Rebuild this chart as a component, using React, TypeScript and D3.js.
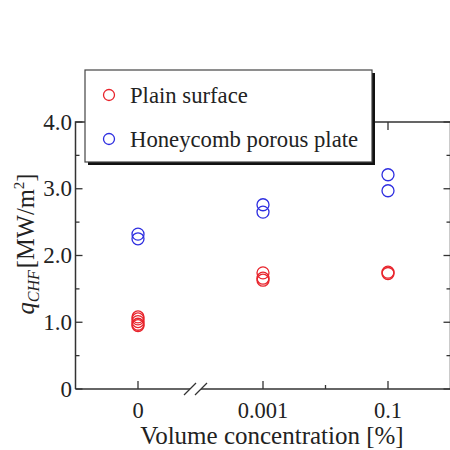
import { useEffect, useRef } from "react";
import * as d3 from "d3";

const categories = ["0", "0.001", "0.1"];
const plainX = [0, 0, 0, 0, 0, 1, 1, 1, 2, 2];
const plainY = [1.08, 1.05, 1.01, 0.97, 0.95, 1.74, 1.66, 1.63, 1.75, 1.73];
const honeyX = [0, 0, 1, 1, 2, 2];
const honeyY = [2.32, 2.25, 2.76, 2.65, 3.21, 2.97];
const yTicks = [0, 1, 2, 3, 4];
const yTickLabels = ["0", "1.0", "2.0", "3.0", "4.0"];
const yMinor = [0.5, 1.5, 2.5, 3.5];
const xMinor = [1.5];
const legendItems = ["Plain surface", "Honeycomb porous plate"];

const RED = "#e8242c";
const BLUE = "#2e2ee0";
const AXIS = "#333";
const FONT = "Times New Roman, Liberation Serif, DejaVu Serif, serif";

export default function App() {
  const svgRef = useRef<SVGSVGElement>(null);

  useEffect(() => {
    if (!svgRef.current) return;
    const svg = d3.select(svgRef.current);
    svg.selectAll("*").remove();

    const x = d3.scaleLinear().domain([-0.5, 2.5]).range([75.5, 450.5]);
    const y = d3.scaleLinear().domain([0, 4]).range([389, 122]);
    const [x0, x1] = x.range();
    const [y0, y1] = y.range();

    const g = svg.append("g");

    // frame: left, top, right
    g.append("path")
      .attr("d", `M${x0},${y0} V${y1} H${x1} V${y0}`)
      .attr("fill", "none").attr("stroke", AXIS).attr("stroke-width", 1.5);

    // bottom axis with break
    const brk1 = 190, brk2 = 201;
    g.append("line").attr("x1", x0).attr("x2", brk1).attr("y1", y0).attr("y2", y0)
      .attr("stroke", AXIS).attr("stroke-width", 1.5);
    g.append("line").attr("x1", brk2).attr("x2", x1).attr("y1", y0).attr("y2", y0)
      .attr("stroke", AXIS).attr("stroke-width", 1.5);
    [brk1, brk2].forEach((bx) => {
      g.append("line")
        .attr("x1", bx - 6).attr("y1", y0 + 6).attr("x2", bx + 6).attr("y2", y0 - 6)
        .attr("stroke", AXIS).attr("stroke-width", 1.2);
    });

    // y ticks (left + right, inward)
    yTicks.forEach((v) => {
      g.append("line").attr("x1", x0).attr("x2", x0 + 7).attr("y1", y(v)).attr("y2", y(v))
        .attr("stroke", AXIS).attr("stroke-width", 1.3);
      g.append("line").attr("x1", x1).attr("x2", x1 - 7).attr("y1", y(v)).attr("y2", y(v))
        .attr("stroke", AXIS).attr("stroke-width", 1.3);
    });
    yMinor.forEach((v) => {
      g.append("line").attr("x1", x0).attr("x2", x0 + 4).attr("y1", y(v)).attr("y2", y(v))
        .attr("stroke", AXIS).attr("stroke-width", 1.3);
      g.append("line").attr("x1", x1).attr("x2", x1 - 4).attr("y1", y(v)).attr("y2", y(v))
        .attr("stroke", AXIS).attr("stroke-width", 1.3);
    });

    // x ticks (bottom + top, inward)
    categories.forEach((_, i) => {
      g.append("line").attr("x1", x(i)).attr("x2", x(i)).attr("y1", y0).attr("y2", y0 - 8)
        .attr("stroke", AXIS).attr("stroke-width", 1.3);
      g.append("line").attr("x1", x(i)).attr("x2", x(i)).attr("y1", y1).attr("y2", y1 + 8)
        .attr("stroke", AXIS).attr("stroke-width", 1.3);
    });
    xMinor.forEach((v) => {
      g.append("line").attr("x1", x(v)).attr("x2", x(v)).attr("y1", y0).attr("y2", y0 - 4)
        .attr("stroke", AXIS).attr("stroke-width", 1.3);
      g.append("line").attr("x1", x(v)).attr("x2", x(v)).attr("y1", y1).attr("y2", y1 + 4)
        .attr("stroke", AXIS).attr("stroke-width", 1.3);
    });

    // tick labels
    yTicks.forEach((v, i) => {
      g.append("text").attr("x", 72).attr("y", y(v) + 7.5)
        .attr("text-anchor", "end").attr("font-family", FONT).attr("font-size", 23)
        .attr("fill", "#222").text(yTickLabels[i]);
    });
    categories.forEach((c, i) => {
      g.append("text").attr("x", x(i)).attr("y", 418)
        .attr("text-anchor", "middle").attr("font-family", FONT).attr("font-size", 22.5)
        .attr("fill", "#222").text(c);
    });

    // axis titles
    g.append("text").attr("x", 272).attr("y", 444)
      .attr("text-anchor", "middle").attr("font-family", FONT).attr("font-size", 25)
      .attr("fill", "#222").text("Volume concentration [%]");

    const yt = g.append("text")
      .attr("transform", "translate(34,244) rotate(-90)")
      .attr("text-anchor", "middle").attr("font-family", FONT).attr("font-size", 24.5)
      .attr("fill", "#222");
    yt.append("tspan").attr("font-style", "italic").text("q");
    yt.append("tspan").attr("font-style", "italic").attr("font-size", 16).attr("dy", 5).text("CHF");
    yt.append("tspan").attr("dy", -5).attr("dx", 2).text("[MW/m");
    yt.append("tspan").attr("font-size", 15).attr("dy", -10).text("2");
    yt.append("tspan").attr("dy", 10).text("]");

    // points
    const pts = g.append("g").attr("fill", "none").attr("stroke-width", 1.3);
    plainY.forEach((v, i) => {
      pts.append("circle").attr("cx", x(plainX[i])).attr("cy", y(v)).attr("r", 6)
        .attr("stroke", RED);
    });
    honeyY.forEach((v, i) => {
      pts.append("circle").attr("cx", x(honeyX[i])).attr("cy", y(v)).attr("r", 6)
        .attr("stroke", BLUE);
    });

    // legend
    const lg = g.append("g").attr("transform", "translate(85,70)");
    lg.append("rect").attr("x", 3).attr("y", 3).attr("width", 287).attr("height", 92).attr("fill", "#111");
    lg.append("rect").attr("width", 287).attr("height", 92)
      .attr("fill", "#fff").attr("stroke", "#444").attr("stroke-width", 1.2);
    legendItems.forEach((label, i) => {
      const cy = 25 + i * 44;
      lg.append("circle").attr("cx", 24).attr("cy", cy).attr("r", 5.5)
        .attr("fill", "none").attr("stroke", i === 0 ? RED : BLUE).attr("stroke-width", 1.3);
      lg.append("text").attr("x", 45).attr("y", cy + 7.5)
        .attr("font-family", FONT).attr("font-size", 22.7).attr("fill", "#222").text(label);
    });
  }, []);

  return (
    <svg
      ref={svgRef}
      width={450}
      height={450}
      style={{ position: "absolute", left: 0, top: 0, background: "#fff" }}
    />
  );
}
